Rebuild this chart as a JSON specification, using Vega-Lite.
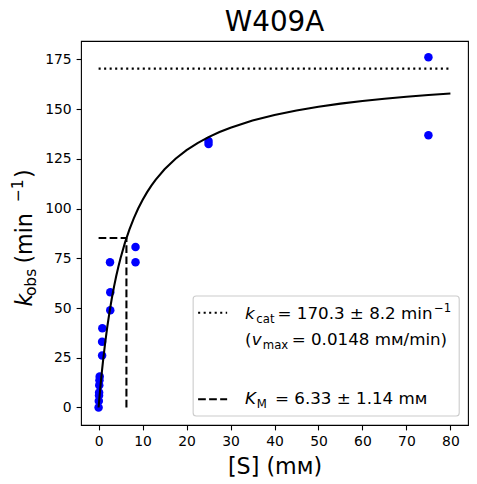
{
  "$schema": "https://vega.github.io/schema/vega-lite/v6.json",
  "autosize": "none",
  "width": 387,
  "height": 384,
  "padding": {"left": 81, "top": 41, "right": 9, "bottom": 59},
  "background": "white",
  "title": {"text": "W409A", "font": "DejaVu Sans", "fontSize": 27.8, "fontWeight": "normal", "color": "black", "anchor": "middle", "frame": "group", "baseline": "alphabetic", "offset": 9, "dy": 27},
  "config": {
    "view": {"stroke": "black", "strokeWidth": 1.1},
    "axis": {"grid": false, "domain": false, "tickColor": "black", "tickSize": 4.9, "tickWidth": 1.1, "labelFont": "DejaVu Sans", "labelFontSize": 13.9, "labelColor": "black", "labelPadding": 4.9, "labelFlush": false, "labelOverlap": false, "titleFont": "DejaVu Sans", "titleFontWeight": "normal", "titleColor": "black"}
  },
  "datasets": {
    "obs": [
      {"S": 0.0, "k": 0.0},
      {"S": 0.05, "k": 3.3},
      {"S": 0.1, "k": 6.0},
      {"S": 0.12, "k": 7.5},
      {"S": 0.15, "k": 11.2},
      {"S": 0.2, "k": 13.7},
      {"S": 0.25, "k": 15.6},
      {"S": 0.8, "k": 26.1},
      {"S": 0.8, "k": 33.0},
      {"S": 0.85, "k": 39.8},
      {"S": 2.65, "k": 48.9},
      {"S": 2.65, "k": 57.9},
      {"S": 2.6, "k": 73.0},
      {"S": 8.4, "k": 80.7},
      {"S": 8.4, "k": 73.0},
      {"S": 25.0, "k": 134.0},
      {"S": 25.0, "k": 132.4},
      {"S": 75.0, "k": 176.0},
      {"S": 75.0, "k": 136.8}
    ],
    "fit": [
      {"S": 0, "k": 0},
      {"S": 0.25, "k": 6.47},
      {"S": 0.5, "k": 12.47},
      {"S": 0.75, "k": 18.04},
      {"S": 1, "k": 23.23},
      {"S": 1.5, "k": 32.62},
      {"S": 2, "k": 40.89},
      {"S": 2.5, "k": 48.22},
      {"S": 3, "k": 54.76},
      {"S": 3.5, "k": 60.64},
      {"S": 4, "k": 65.94},
      {"S": 4.5, "k": 70.76},
      {"S": 5, "k": 75.15},
      {"S": 6, "k": 82.87},
      {"S": 7, "k": 89.43},
      {"S": 8, "k": 95.07},
      {"S": 9, "k": 99.98},
      {"S": 10, "k": 104.29},
      {"S": 11, "k": 108.10},
      {"S": 12, "k": 111.49},
      {"S": 13, "k": 114.53},
      {"S": 15, "k": 119.76},
      {"S": 17.5, "k": 125.06},
      {"S": 20, "k": 129.36},
      {"S": 22.5, "k": 132.91},
      {"S": 25, "k": 135.89},
      {"S": 27.5, "k": 138.43},
      {"S": 30, "k": 140.63},
      {"S": 35, "k": 144.22},
      {"S": 40, "k": 147.03},
      {"S": 45, "k": 149.30},
      {"S": 50, "k": 151.16},
      {"S": 55, "k": 152.72},
      {"S": 60, "k": 154.05},
      {"S": 65, "k": 155.19},
      {"S": 70, "k": 156.18},
      {"S": 75, "k": 157.05},
      {"S": 80, "k": 157.81}
    ],
    "kcat": [{"S": 0, "S2": 80, "k": 170.3}],
    "km": [
      {"S": 0, "S2": 6.33, "k": 85.15, "k2": 85.15},
      {"S": 6.33, "S2": 6.33, "k": 0, "k2": 85.15}
    ]
  },
  "layer": [
    {
      "data": {"name": "obs"},
      "mark": {"type": "point", "filled": true, "color": "#0000ff", "opacity": 1, "size": 72},
      "encoding": {
        "x": {"field": "S", "type": "quantitative", "scale": {"domain": [-4, 84], "nice": false, "zero": false}, "axis": {"values": [0, 10, 20, 30, 40, 50, 60, 70, 80], "title": "[S] (mᴍ)", "titleFontSize": 22.2, "titlePadding": 7}},
        "y": {"field": "k", "type": "quantitative", "scale": {"domain": [-8.8, 184.2], "nice": false, "zero": false}, "axis": {"values": [0, 25, 50, 75, 100, 125, 150, 175], "title": null}}
      }
    },
    {
      "data": {"name": "fit"},
      "mark": {"type": "line", "color": "black", "strokeWidth": 2.08},
      "encoding": {
        "x": {"field": "S", "type": "quantitative"},
        "y": {"field": "k", "type": "quantitative"},
        "order": {"field": "S"}
      }
    },
    {
      "data": {"name": "kcat"},
      "mark": {"type": "rule", "color": "black", "strokeWidth": 2.08, "strokeDash": [2.08, 3.44]},
      "encoding": {
        "x": {"field": "S", "type": "quantitative"},
        "x2": {"field": "S2"},
        "y": {"field": "k", "type": "quantitative"}
      }
    },
    {
      "data": {"name": "km"},
      "mark": {"type": "rule", "color": "black", "strokeWidth": 2.08, "strokeDash": [7.7, 3.33]},
      "encoding": {
        "x": {"field": "S", "type": "quantitative"},
        "x2": {"field": "S2"},
        "y": {"field": "k", "type": "quantitative"},
        "y2": {"field": "k2"}
      }
    },
    {
      "data": {"values": [{}]},
      "mark": {"type": "rect", "fill": "white", "fillOpacity": 0.8, "stroke": "#cccccc", "strokeWidth": 1.1, "cornerRadius": 3},
      "encoding": {"x": {"datum": 21.5}, "x2": {"datum": 82.0}, "y": {"datum": 56.0}, "y2": {"datum": -4.3}}
    },
    {
      "data": {"values": [{}]},
      "mark": {"type": "rule", "color": "black", "strokeWidth": 2.08, "strokeDash": [2.08, 3.44]},
      "encoding": {"x": {"datum": 22.63}, "x2": {"datum": 29.23}, "y": {"datum": 47.65}}
    },
    {
      "data": {"values": [{}]},
      "mark": {"type": "rule", "color": "black", "strokeWidth": 2.08, "strokeDash": [7.7, 3.33]},
      "encoding": {"x": {"datum": 22.63}, "x2": {"datum": 29.23}, "y": {"datum": 4.12}}
    },
    {
      "data": {"values": [{"t": "k"}]},
      "mark": {"type": "text", "font": "DejaVu Sans", "fontStyle": "italic", "fontSize": 16.7, "align": "left", "baseline": "alphabetic", "color": "black", "dx": 0},
      "encoding": {"x": {"datum": 33.29}, "y": {"datum": 44.3}, "text": {"field": "t"}}
    },
    {
      "data": {"values": [{"t": "cat"}]},
      "mark": {"type": "text", "font": "DejaVu Sans", "fontSize": 11.7, "align": "left", "baseline": "alphabetic", "color": "black", "dx": 11.3, "dy": 3.5},
      "encoding": {"x": {"datum": 33.29}, "y": {"datum": 44.3}, "text": {"field": "t"}}
    },
    {
      "data": {"values": [{"t": "= 170.3 ± 8.2 min"}]},
      "mark": {"type": "text", "font": "DejaVu Sans", "fontSize": 16.7, "align": "left", "baseline": "alphabetic", "color": "black", "dx": 32.5},
      "encoding": {"x": {"datum": 33.29}, "y": {"datum": 44.3}, "text": {"field": "t"}}
    },
    {
      "data": {"values": [{"t": "−1"}]},
      "mark": {"type": "text", "font": "DejaVu Sans", "fontSize": 11.7, "align": "left", "baseline": "alphabetic", "color": "black", "dx": 189, "dy": -7},
      "encoding": {"x": {"datum": 33.29}, "y": {"datum": 44.3}, "text": {"field": "t"}}
    },
    {
      "data": {"values": [{"t": "("}]},
      "mark": {"type": "text", "font": "DejaVu Sans", "fontSize": 16.7, "align": "left", "baseline": "alphabetic", "color": "black", "dx": 0},
      "encoding": {"x": {"datum": 33.29}, "y": {"datum": 31.4}, "text": {"field": "t"}}
    },
    {
      "data": {"values": [{"t": "v"}]},
      "mark": {"type": "text", "font": "DejaVu Sans", "fontStyle": "italic", "fontSize": 16.7, "align": "left", "baseline": "alphabetic", "color": "black", "dx": 6.8},
      "encoding": {"x": {"datum": 33.29}, "y": {"datum": 31.4}, "text": {"field": "t"}}
    },
    {
      "data": {"values": [{"t": "max"}]},
      "mark": {"type": "text", "font": "DejaVu Sans", "fontSize": 11.7, "align": "left", "baseline": "alphabetic", "color": "black", "dx": 17.8, "dy": 3.5},
      "encoding": {"x": {"datum": 33.29}, "y": {"datum": 31.4}, "text": {"field": "t"}}
    },
    {
      "data": {"values": [{"t": "= 0.0148 mᴍ/min)"}]},
      "mark": {"type": "text", "font": "DejaVu Sans", "fontSize": 16.7, "align": "left", "baseline": "alphabetic", "color": "black", "dx": 46.7},
      "encoding": {"x": {"datum": 33.29}, "y": {"datum": 31.4}, "text": {"field": "t"}}
    },
    {
      "data": {"values": [{"t": "K"}]},
      "mark": {"type": "text", "font": "DejaVu Sans", "fontStyle": "italic", "fontSize": 16.7, "align": "left", "baseline": "alphabetic", "color": "black", "dx": 0},
      "encoding": {"x": {"datum": 33.29}, "y": {"datum": 1.6}, "text": {"field": "t"}}
    },
    {
      "data": {"values": [{"t": "M"}]},
      "mark": {"type": "text", "font": "DejaVu Sans", "fontSize": 11.7, "align": "left", "baseline": "alphabetic", "color": "black", "dx": 11.7, "dy": 3.5},
      "encoding": {"x": {"datum": 33.29}, "y": {"datum": 1.6}, "text": {"field": "t"}}
    },
    {
      "data": {"values": [{"t": "= 6.33 ± 1.14 mᴍ"}]},
      "mark": {"type": "text", "font": "DejaVu Sans", "fontSize": 16.7, "align": "left", "baseline": "alphabetic", "color": "black", "dx": 30},
      "encoding": {"x": {"datum": 33.29}, "y": {"datum": 1.6}, "text": {"field": "t"}}
    },
    {
      "data": {"values": [{"t": "k"}]},
      "mark": {"type": "text", "font": "DejaVu Sans", "fontStyle": "italic", "fontSize": 22.2, "align": "left", "baseline": "alphabetic", "color": "black", "angle": 270, "dx": 0},
      "encoding": {"x": {"datum": -15.2}, "y": {"datum": 50.7}, "text": {"field": "t"}}
    },
    {
      "data": {"values": [{"t": "obs"}]},
      "mark": {"type": "text", "font": "DejaVu Sans", "fontSize": 15.5, "align": "left", "baseline": "alphabetic", "color": "black", "angle": 270, "dx": 10.5, "dy": 4.5},
      "encoding": {"x": {"datum": -15.2}, "y": {"datum": 50.7}, "text": {"field": "t"}}
    },
    {
      "data": {"values": [{"t": "(min"}]},
      "mark": {"type": "text", "font": "DejaVu Sans", "fontSize": 22.2, "align": "left", "baseline": "alphabetic", "color": "black", "angle": 270, "dx": 43},
      "encoding": {"x": {"datum": -15.2}, "y": {"datum": 50.7}, "text": {"field": "t"}}
    },
    {
      "data": {"values": [{"t": "−1"}]},
      "mark": {"type": "text", "font": "DejaVu Sans", "fontSize": 15.5, "align": "left", "baseline": "alphabetic", "color": "black", "angle": 270, "dx": 104.5, "dy": -9},
      "encoding": {"x": {"datum": -15.2}, "y": {"datum": 50.7}, "text": {"field": "t"}}
    },
    {
      "data": {"values": [{"t": ")"}]},
      "mark": {"type": "text", "font": "DejaVu Sans", "fontSize": 22.2, "align": "left", "baseline": "alphabetic", "color": "black", "angle": 270, "dx": 128.5},
      "encoding": {"x": {"datum": -15.2}, "y": {"datum": 50.7}, "text": {"field": "t"}}
    }
  ]
}
